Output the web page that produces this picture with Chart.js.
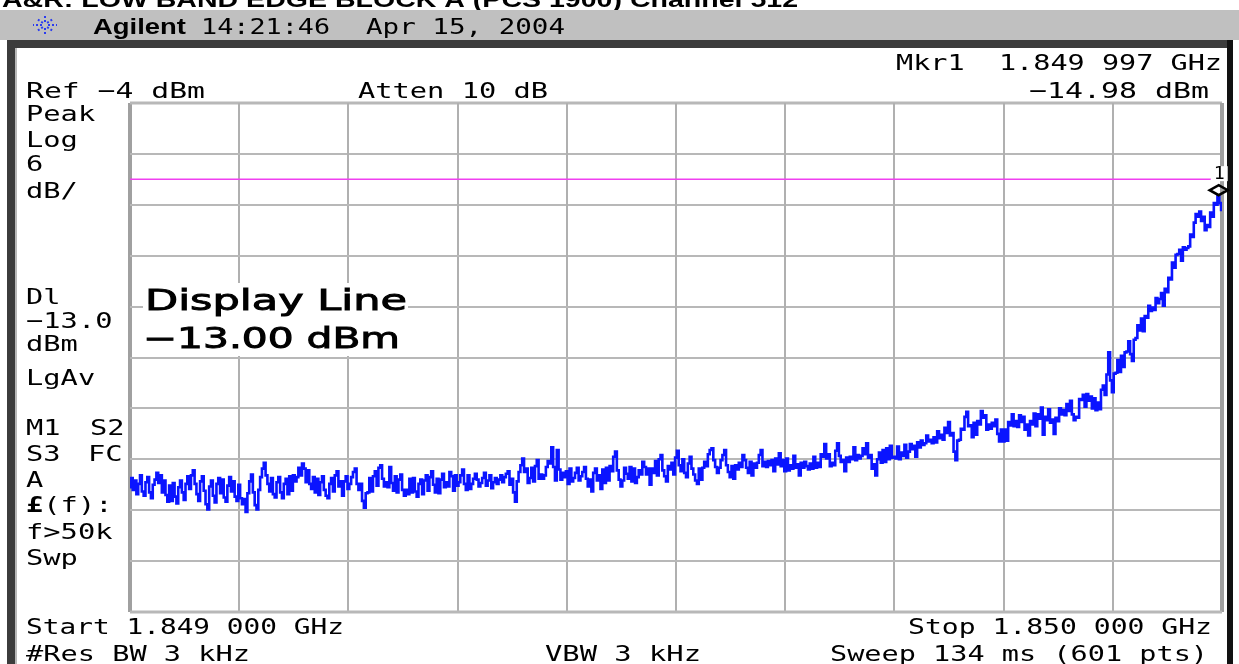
<!DOCTYPE html>
<html>
<head>
<meta charset="utf-8">
<script src="https://cdn.jsdelivr.net/npm/chart.js@4.4.1/dist/chart.umd.min.js"></script>
<style>
  html, body { margin: 0; padding: 0; background: #ffffff; }
  canvas { display: block; }
</style>
</head>
<body>
<canvas id="c" width="1239" height="664"></canvas>
<script>
// ---------------- DATA ----------------
const START_GHZ = 1.849;
const STOP_GHZ = 1.850;
const REF_DBM = -4;
const DB_PER_DIV = 6;
const DIVISIONS = 10;
const DISPLAY_LINE_DBM = -13;
const MARKER_GHZ = 1.849997;
const MARKER_DBM = -14.98;

// Trace (601 pts), dBm
const traceDbm = [
  // div 0
  -49.3,-48.2,-49.6,-48.5,-50.1,-48.9,-47.9,-49.8,-50.3,-48.7,-48.1,-49.9,-50.6,-49.0,-48.4,-47.6,-48.8,-47.9,-49.9,-48.5,
  -50.2,-51.0,-49.1,-50.9,-48.8,-50.4,-51.2,-49.3,-48.5,-49.9,-50.8,-48.9,-48.0,-49.5,-47.9,-47.3,-48.9,-50.1,-50.9,-48.6,
  -48.0,-49.7,-51.3,-51.9,-49.2,-48.5,-50.3,-51.1,-48.9,-48.2,-50.0,-48.4,-50.5,-51.0,-49.1,-48.1,-49.8,-48.6,-50.4,-50.9,
  // div 1
  -49.0,-50.6,-51.3,-50.7,-52.2,-50.0,-48.6,-47.8,-49.9,-51.4,-51.9,-49.6,-48.1,-47.1,-46.4,-47.9,-48.9,-49.8,-48.2,-50.1,
  -50.5,-48.7,-48.1,-49.9,-50.6,-48.9,-48.3,-50.1,-48.0,-49.7,-47.9,-48.6,-48.1,-47.0,-47.9,-46.5,-47.1,-48.7,-47.3,-48.9,
  -49.5,-48.1,-49.9,-48.3,-50.2,-48.7,-48.0,-49.6,-50.3,-50.6,-48.9,-48.2,-49.8,-47.9,-47.4,-49.2,-48.6,-50.3,-48.6,-48.0,
  // div 2
  -49.5,-48.9,-48.1,-47.5,-47.1,-48.9,-49.6,-48.9,-50.9,-51.7,-50.0,-49.9,-48.2,-49.8,-48.0,-47.4,-49.1,-47.0,-46.7,-48.3,
  -49.2,-48.7,-49.3,-46.9,-48.8,-49.7,-48.0,-49.9,-48.4,-47.8,-49.6,-50.3,-49.6,-50.1,-48.3,-49.9,-48.2,-49.8,-50.4,-48.9,
  -48.4,-50.1,-48.5,-47.9,-49.7,-48.1,-47.4,-49.0,-49.9,-48.3,-50.0,-48.4,-47.7,-49.3,-48.7,-49.2,-47.5,-48.0,-49.7,-47.9,
  // div 3
  -49.1,-48.7,-47.9,-47.2,-48.9,-49.6,-47.9,-49.5,-48.9,-48.3,-47.7,-48.4,-49.2,-48.8,-48.2,-47.6,-49.1,-48.5,-47.9,-49.4,
  -48.7,-48.2,-48.9,-48.4,-47.9,-48.7,-48.1,-47.7,-47.4,-49.0,-48.3,-49.9,-51.0,-48.6,-47.5,-46.7,-45.9,-47.5,-47.1,-48.8,
  -48.2,-47.0,-48.6,-46.8,-46.1,-48.3,-47.8,-48.3,-47.9,-46.9,-46.2,-46.5,-44.6,-46.9,-48.5,-44.9,-47.2,-48.4,-47.6,-48.1,
  // div 4
  -47.4,-48.9,-47.1,-48.6,-48.2,-47.6,-47.0,-48.5,-48.0,-47.5,-46.9,-48.3,-49.2,-48.4,-49.8,-47.6,-47.1,-48.5,-47.9,-49.5,
  -47.2,-48.8,-47.0,-48.5,-46.8,-47.4,-45.7,-45.1,-47.3,-48.4,-49.2,-48.5,-47.0,-47.7,-48.3,-46.9,-48.6,-47.1,-48.8,-48.1,
  -47.3,-47.8,-46.3,-46.9,-47.8,-47.1,-49.0,-47.1,-47.6,-46.2,-47.9,-46.0,-45.5,-47.3,-48.0,-48.6,-46.8,-47.2,-46.4,-47.8,
  // div 5
  -45.8,-45.0,-46.7,-47.4,-46.0,-47.6,-48.1,-46.5,-45.7,-47.1,-47.8,-48.5,-48.9,-47.1,-48.4,-47.0,-46.3,-46.8,-45.4,-44.9,
  -44.7,-46.1,-46.9,-47.6,-47.0,-46.1,-45.5,-44.9,-46.7,-47.5,-48.1,-46.8,-48.3,-46.7,-47.2,-46.4,-46.9,-45.5,-46.1,-47.0,
  -47.6,-46.3,-47.9,-46.5,-47.0,-46.4,-45.5,-44.9,-46.8,-46.3,-46.9,-46.2,-46.7,-46.1,-47.4,-45.9,-46.6,-45.3,-46.8,-46.1,
  // div 6
  -47.4,-45.9,-47.3,-46.7,-47.1,-45.6,-47.0,-46.6,-47.9,-46.4,-47.0,-46.3,-46.8,-47.2,-46.5,-47.1,-45.7,-47.0,-46.4,-46.9,
  -45.4,-45.7,-44.2,-45.9,-45.4,-46.8,-46.4,-46.7,-45.0,-44.1,-45.6,-46.3,-46.1,-47.4,-45.8,-46.3,-45.7,-46.0,-44.6,-46.1,
  -45.5,-45.9,-45.6,-44.7,-45.4,-44.1,-45.8,-45.5,-47.1,-46.6,-47.9,-46.0,-45.2,-46.4,-44.9,-46.3,-44.7,-46.0,-44.4,-45.8,
  // div 7
  -45.7,-45.9,-44.5,-46.0,-45.2,-45.6,-44.3,-45.8,-45.1,-44.2,-44.8,-44.4,-45.7,-44.0,-44.6,-43.8,-44.3,-44.1,-43.2,-43.9,
  -43.7,-44.1,-43.4,-44.0,-42.7,-43.5,-43.1,-43.7,-42.3,-42.9,-41.6,-43.2,-42.9,-45.1,-46.1,-43.8,-43.7,-42.4,-42.5,-41.0,
  -40.4,-42.1,-42.0,-43.4,-41.7,-43.1,-41.5,-41.9,-40.3,-41.1,-40.8,-42.5,-41.9,-42.4,-41.7,-42.1,-41.3,-43.0,-43.9,-42.5,
  // div 8
  -43.9,-42.5,-43.8,-41.6,-42.0,-40.7,-42.1,-41.5,-42.2,-40.8,-41.6,-41.0,-42.5,-41.9,-43.2,-41.5,-41.9,-40.6,-42.1,-40.7,
  -41.2,-39.9,-43.1,-41.0,-41.4,-40.1,-41.7,-41.3,-43.0,-41.1,-41.5,-40.0,-40.7,-40.2,-40.8,-39.5,-40.3,-39.1,-40.7,-41.4,
  -41.0,-41.1,-38.9,-39.0,-38.4,-39.8,-38.3,-39.1,-38.6,-40.0,-38.8,-40.2,-39.3,-40.1,-37.8,-37.3,-38.4,-36.0,-33.4,-36.7,
  // div 9
  -38.1,-35.9,-35.8,-34.3,-35.7,-33.8,-35.1,-33.4,-33.3,-32.1,-33.6,-34.4,-31.9,-31.7,-30.2,-30.8,-29.4,-30.9,-29.1,-29.3,-27.9,
  -28.5,-28.1,-28.4,-27.0,-27.6,-27.1,-26.4,-27.9,-25.9,-26.3,-24.6,-24.8,-22.8,-23.4,-21.9,-21.8,-21.3,-22.6,-21.0,-21.3,
  -21.1,-20.9,-19.5,-19.8,-18.1,-17.1,-17.4,-16.8,-17.9,-17.4,-19.0,-18.4,-18.6,-16.9,-17.4,-15.8,-16.0,-14.98,-15.8,-16.6
];

// ---------------- TEXT HELPERS ----------------
const MONO = '22px "DejaVu Sans Mono"';
const ADV = 17.3;
function txt(ctx, s, x, y, o) {
  o = o || {};
  ctx.save();
  ctx.font = o.font || MONO;
  ctx.fillStyle = o.color || '#000';
  ctx.strokeStyle = o.color || '#000';
  ctx.textBaseline = 'alphabetic';
  ctx.textAlign = 'left';
  const w = ctx.measureText(s).width;
  const target = (o.width != null) ? o.width : s.length * (o.adv || ADV);
  const sx = target / w;
  let left = x;
  if (o.align === 'right') left = x - target;
  ctx.translate(left, y);
  ctx.scale(sx, 1);
  ctx.fillText(s, 0, 0);
  if (o.stroke) { ctx.lineWidth = o.stroke; ctx.strokeText(s, 0, 0); }
  ctx.restore();
}

const span = STOP_GHZ - START_GHZ;
const points = traceDbm.map((v, i) => ({ x: START_GHZ + i * span / (traceDbm.length - 1), y: v }));

const screenPlugin = {
  id: 'screen',
  beforeDraw(chart) {
    const ctx = chart.ctx;
    ctx.save();
    ctx.fillStyle = '#ffffff';
    ctx.fillRect(0, 0, 1239, 664);
    // cut-off title
    txt(ctx, 'A&R: LOW BAND EDGE BLOCK A (PCS 1900) Channel 512', 2, 7,
        { font: 'bold 22px "Liberation Sans"', width: 796 });
    // header bar
    ctx.fillStyle = '#c0c0c0';
    ctx.fillRect(0, 10, 1239, 30);
    // frame
    ctx.fillStyle = '#3c3c3c';
    ctx.fillRect(7, 40, 1226, 8);
    ctx.fillRect(7, 40, 8, 624);
    ctx.fillStyle = '#b8b8b8';
    ctx.fillRect(15, 48, 2, 616);
    ctx.fillStyle = '#111111';
    ctx.fillRect(1227, 40, 6, 624);
    // agilent spark
    ctx.strokeStyle = '#2a3cf0';
    ctx.lineWidth = 2;
    ctx.setLineDash([2, 2]);
    for (let k = 0; k < 8; k++) {
      const a = k * Math.PI / 4;
      ctx.beginPath();
      ctx.moveTo(45 + Math.cos(a) * 3, 25 + Math.sin(a) * 3);
      ctx.lineTo(45 + Math.cos(a) * 12, 25 + Math.sin(a) * 9);
      ctx.stroke();
    }
    ctx.setLineDash([]);
    ctx.restore();
    txt(ctx, 'Agilent', 93, 34, { font: 'bold 22px "Liberation Sans"', width: 93 });
    txt(ctx, '14:21:46', 201, 34, { width: 129 });
    txt(ctx, 'Apr 15, 2004', 366, 34, { width: 199 });
  },
  beforeDatasetsDraw(chart) {
    const ctx = chart.ctx;
    const xs = chart.scales.x, ys = chart.scales.y;
    const a = chart.chartArea;
    ctx.save();
    for (let k = 0; k <= DIVISIONS; k++) {
      const px = Math.round(xs.getPixelForValue(START_GHZ + k * span / DIVISIONS));
      const edge = (k === 0 || k === DIVISIONS);
      ctx.strokeStyle = edge ? '#a0a0a0' : '#b0b0b0';
      ctx.lineWidth = edge ? 4 : 2;
      ctx.beginPath(); ctx.moveTo(px, a.top); ctx.lineTo(px, a.bottom); ctx.stroke();
      const py = Math.round(ys.getPixelForValue(REF_DBM - k * DB_PER_DIV));
      ctx.strokeStyle = '#b8b8b8';
      ctx.lineWidth = edge ? 3 : 2;
      ctx.beginPath(); ctx.moveTo(a.left, py); ctx.lineTo(a.right, py); ctx.stroke();
    }
    // display line
    const dy = ys.getPixelForValue(DISPLAY_LINE_DBM);
    ctx.strokeStyle = '#f040f0';
    ctx.lineWidth = 1.5;
    ctx.beginPath(); ctx.moveTo(a.left, dy); ctx.lineTo(a.right, dy); ctx.stroke();
    ctx.restore();
  },
  afterDatasetsDraw(chart) {
    const ctx = chart.ctx;
    const xs = chart.scales.x, ys = chart.scales.y;
    // marker
    const mx = xs.getPixelForValue(MARKER_GHZ);
    const my = ys.getPixelForValue(MARKER_DBM);
    ctx.save();
    ctx.fillStyle = '#ffffff';
    ctx.fillRect(mx - 8, my - 30, 17, 15);
    ctx.beginPath();
    ctx.moveTo(mx, my - 1);
    ctx.lineTo(mx + 9, my - 6);
    ctx.lineTo(mx, my - 11);
    ctx.lineTo(mx - 9, my - 6);
    ctx.closePath();
    ctx.strokeStyle = '#000';
    ctx.lineWidth = 2.6;
    ctx.stroke();
    ctx.restore();
    txt(ctx, '1', mx - 5, my - 17, { font: '17px "DejaVu Sans Mono"', width: 11 });

    // display line annotation box
    ctx.save();
    ctx.fillStyle = '#ffffff';
    ctx.fillRect(143, 283, 265, 73);
    ctx.restore();
    txt(ctx, 'Display Line', 145, 310, { font: '28px "DejaVu Sans"', width: 262, stroke: 0.9 });
    txt(ctx, '\u221213.00 dBm', 143, 348, { font: '28px "DejaVu Sans"', width: 257, stroke: 0.9 });

    // top annotations
    txt(ctx, 'Mkr1  1.849 997 GHz', 1222, 70, { align: 'right', width: 326 });
    txt(ctx, 'Ref \u22124 dBm', 26, 98, { width: 179 });
    txt(ctx, 'Atten 10 dB', 358, 98, { width: 190 });
    txt(ctx, '\u221214.98 dBm', 1209, 98, { align: 'right', width: 180 });

    // left panel
    const L = 26;
    txt(ctx, 'Peak', L, 121);
    txt(ctx, 'Log', L, 147);
    txt(ctx, '6', L, 171);
    txt(ctx, 'dB/', L, 198);
    txt(ctx, 'Dl', L, 304);
    txt(ctx, '\u221213.0', L, 328);
    txt(ctx, 'dBm', L, 351);
    txt(ctx, 'LgAv', L, 385);
    txt(ctx, 'M1', L, 435); txt(ctx, 'S2', 90, 435);
    txt(ctx, 'S3', L, 461); txt(ctx, 'FC', 88, 461);
    txt(ctx, 'A', L, 487);
    txt(ctx, '\u00a3', L, 512, { font: 'bold 22px "DejaVu Sans Mono"' });
    txt(ctx, '(f):', L + ADV, 512);
    txt(ctx, 'f>50k', L, 539);
    txt(ctx, 'Swp', L, 565);

    // bottom annotations
    txt(ctx, 'Start 1.849 000 GHz', 26, 634, { width: 318 });
    txt(ctx, 'Stop 1.850 000 GHz', 1212, 634, { align: 'right', width: 304 });
    txt(ctx, '#Res BW 3 kHz', 26, 661, { width: 224 });
    txt(ctx, 'VBW 3 kHz', 545, 661, { width: 156 });
    txt(ctx, 'Sweep 134 ms (601 pts)', 1208, 661, { align: 'right', width: 378 });
  }
};

new Chart(document.getElementById('c'), {
  type: 'line',
  data: {
    datasets: [{
      data: points,
      borderColor: '#0a14ff',
      borderWidth: 2.6,
      pointRadius: 0,
      stepped: 'middle',
      fill: false
    }]
  },
  options: {
    responsive: false,
    animation: false,
    devicePixelRatio: 1,
    layout: { padding: { left: 130, right: 17, top: 103, bottom: 52 } },
    plugins: { legend: { display: false }, tooltip: { enabled: false } },
    scales: {
      x: { type: 'linear', display: false, min: START_GHZ, max: STOP_GHZ },
      y: { type: 'linear', display: false, min: REF_DBM - DB_PER_DIV * DIVISIONS, max: REF_DBM }
    }
  },
  plugins: [screenPlugin]
});
</script>
</body>
</html>
